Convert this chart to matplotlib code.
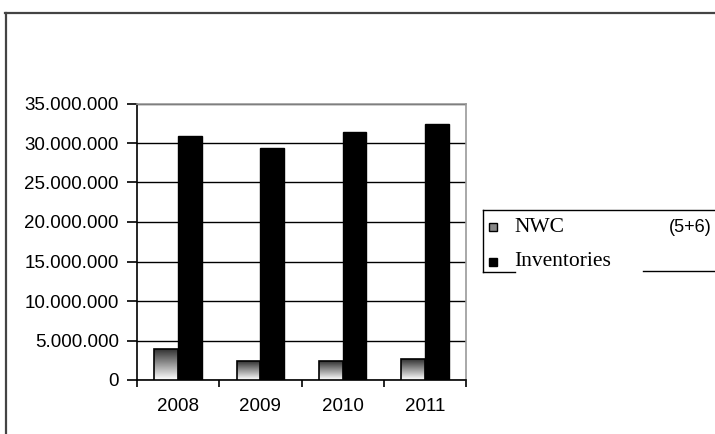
import matplotlib.pyplot as plt
import numpy as np
from matplotlib.lines import Line2D
from matplotlib.patches import Rectangle
from matplotlib.ticker import FuncFormatter

# Values per year
years = ['2008', '2009', '2010', '2011']
nwc = [3900000, 2350000, 2350000, 2650000]
inventories = [30850000, 29350000, 31350000, 32350000]

W, H = 715, 434
fig = plt.figure(figsize=(W / 100, H / 100), dpi=100)

# plot area placed in pixel terms
left, right, top, bottom = 137, 466, 103.5, 380
ax = fig.add_axes([left / W, (H - bottom) / H, (right - left) / W, (bottom - top) / H])

x = np.arange(len(years))
bw = 0.29

# NWC bars: grey-to-white gradient with black outline
grad = np.linspace(0.2, 1.0, 64).reshape(-1, 1)
for xi, v in zip(x, nwc):
    x0 = xi - bw
    ax.imshow(grad, cmap='gray', vmin=0, vmax=1, aspect='auto',
              extent=(x0, x0 + bw, 0, v), origin='upper', zorder=3,
              interpolation='bilinear')
    ax.add_patch(Rectangle((x0, 0), bw, v, fill=False, edgecolor='black',
                           linewidth=1.2, zorder=4))

ax.bar(x, inventories, width=bw, align='edge', color='black',
       edgecolor='black', zorder=3)

ax.set_xlim(-0.5, 3.5)
ax.set_ylim(0, 35000000)
ax.set_yticks(np.arange(0, 35000001, 5000000))
ax.yaxis.set_major_formatter(FuncFormatter(lambda v, p: f'{int(v):,}'.replace(',', '.')))
ax.grid(axis='y', color='black', linewidth=1.0, zorder=1)

ax.set_xticks(x)
ax.set_xticklabels(years)
ax.set_xticks(np.arange(-0.5, 4.0, 1.0), minor=True)
ax.tick_params(axis='x', which='major', length=0, pad=13)
ax.tick_params(axis='x', which='minor', length=5, width=1.2, direction='out')
ax.tick_params(axis='y', length=7, width=1.2, direction='out', pad=6)
for lab in ax.get_xticklabels() + ax.get_yticklabels():
    lab.set_fontfamily('Liberation Sans')
    lab.set_fontsize(13.5)

for s in ['left', 'bottom']:
    ax.spines[s].set_color('black')
    ax.spines[s].set_linewidth(1.2)
for s in ['top', 'right']:
    ax.spines[s].set_color('#999999')
    ax.spines[s].set_linewidth(1.2)


def px_line(xs, ys, **kw):
    fig.add_artist(Line2D([v / W for v in xs], [1 - v / H for v in ys],
                          transform=fig.transFigure, **kw))


# outer chart frame
px_line([5, 715], [13, 13], color='#444444', linewidth=1.6)
px_line([6, 6], [13, 434], color='#444444', linewidth=1.6)

# legend box
px_line([483, 715], [210, 210], color='black', linewidth=1.0)
px_line([483, 483], [210, 272], color='black', linewidth=1.0)
px_line([483, 515], [272, 272], color='black', linewidth=1.0)
px_line([643, 715], [271, 271], color='black', linewidth=1.0)

fig.add_artist(Rectangle(((493 - 4) / W, 1 - (227 + 4) / H), 8 / W, 8 / H,
                         transform=fig.transFigure, facecolor='#888888',
                         edgecolor='black', linewidth=1.0))
fig.add_artist(Rectangle(((493 - 4) / W, 1 - (262 + 4) / H), 8 / W, 8 / H,
                         transform=fig.transFigure, facecolor='black',
                         edgecolor='black', linewidth=1.0))
fig.text(514 / W, 1 - 227 / H, 'NWC', family='Liberation Serif', fontsize=15.5,
         va='center', ha='left')
fig.text(514 / W, 1 - 262 / H, 'Inventories', family='Liberation Serif', fontsize=15.5,
         va='center', ha='left')
fig.text(669 / W, 1 - 227 / H, '(5+6)', family='Liberation Sans', fontsize=13,
         va='center', ha='left')

fig.savefig('out.png', dpi=100)
